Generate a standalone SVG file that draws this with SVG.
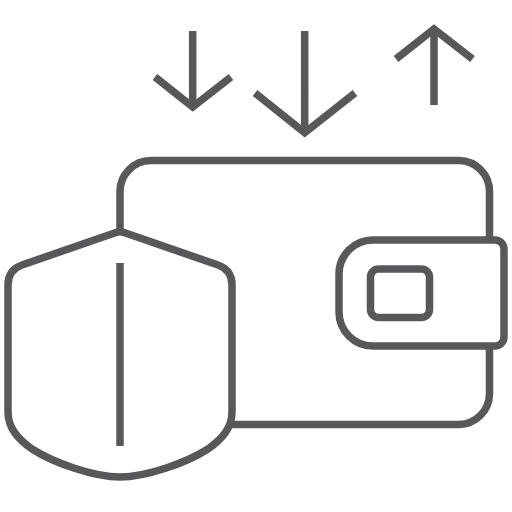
<svg xmlns="http://www.w3.org/2000/svg" width="512" height="512" viewBox="0 0 512 512">
<style>.s{fill:none;stroke:#58585a;stroke-width:7.5;stroke-linecap:butt;stroke-linejoin:round}.a{stroke-linejoin:miter;stroke-miterlimit:10}</style>
<rect width="512" height="512" fill="#fff"/>
<g id="wallet"><path class="s" d="M120 232V192A31 31 0 0 1 151 160.500H459A31 31 0 0 1 489.500 192V240M489.500 346V394A31 31 0 0 1 459 424.500H231"/></g>
<g id="clasp"><path class="s" d="M373 240H495A9 9 0 0 1 504 249V337A9 9 0 0 1 495 346H373A34 34 0 0 1 339 312V274A34 34 0 0 1 373 240Z"/></g>
<g id="clasp-window"><rect class="s" x="370.500" y="269" width="59" height="48.500" rx="8"/></g>
<g id="shield"><path class="s" d="M116 232.500Q120 231 124 232.500L218 265Q232 270 232 285V412C232 428 222 439 208 449C186 463 146 477 120 477C94 477 54 463 32 449C18 439 8 428 8 412V285Q8 270 22 265Z"/><path class="s" d="M120 263V446"/></g>
<g id="arrow-down-1"><path class="s a" d="M192.700 31V107M155 77L192.700 107L231 77"/></g>
<g id="arrow-down-2"><path class="s a" d="M304.700 31V132.700M255 93L304.700 132.700L355 93"/></g>
<g id="arrow-up"><path class="s a" d="M434 105V29M396 59L434 29L472.500 59"/></g>
</svg>
